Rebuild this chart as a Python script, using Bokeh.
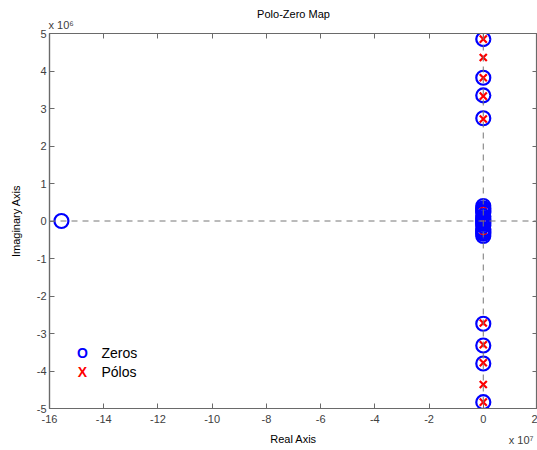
from bokeh.plotting import figure
from bokeh.models import (Range1d, LinearAxis, FixedTicker, CustomJSTickFormatter,
                          Span, Label, Title, ColumnDataSource)
from bokeh.embed import file_html
from bokeh.resources import INLINE

# ---- data ----
zero_real = [-1.556e8] + [0.0] * 25
zero_imag = [0.0,
             4.85e6, 3.82e6, 3.35e6, 2.74e6,
             0.40e6, 0.34e6, 0.30e6, 0.26e6, 0.22e6, 0.08e6, 0.04e6, 0.0,
             -0.04e6, -0.08e6, -0.22e6, -0.26e6, -0.30e6, -0.34e6, -0.40e6,
             -2.74e6, -3.32e6, -3.80e6, -4.83e6,
             0.13e6, -0.13e6]

pole_imag = [4.85e6, 4.36e6, 3.82e6, 3.33e6, 2.72e6, 0.40e6, 0.0,
             -0.40e6, -2.72e6, -3.30e6, -3.78e6, -4.36e6, -4.83e6]
pole_real = [0.0] * len(pole_imag)

x_ticks = [-16e7, -14e7, -12e7, -10e7, -8e7, -6e7, -4e7, -2e7, 0, 2e7]
y_ticks = [-5e6, -4e6, -3e6, -2e6, -1e6, 0, 1e6, 2e6, 3e6, 4e6, 5e6]

AX = "#6a6a6a"
LBL = "#404040"
FONT = "Liberation Sans"

p = figure(width=537, height=450, output_backend="svg", toolbar_location=None,
           x_range=Range1d(-16e7, 2e7), y_range=Range1d(-5e6, 5e6),
           min_border_left=49, min_border_top=33, min_border_bottom=42,
           min_border_right=0, title="Polo-Zero Map")
p.title.align = "center"
p.title.text_font = FONT
p.title.text_font_size = "11px"
p.title.text_font_style = "normal"
p.title.text_color = "black"
p.title.standoff = -10

p.xgrid.visible = False
p.ygrid.visible = False
p.outline_line_color = AX
p.outline_line_width = 1.2
p.background_fill_color = "white"
p.border_fill_color = "white"

xfmt = CustomJSTickFormatter(code="return (tick/1e7).toFixed(0);")
yfmt = CustomJSTickFormatter(code="return (tick/1e6).toFixed(0);")

for ax, fmt, ticks in ((p.xaxis[0], xfmt, x_ticks), (p.yaxis[0], yfmt, y_ticks)):
    ax.ticker = FixedTicker(ticks=ticks)
    ax.formatter = fmt
    ax.major_tick_in = 5
    ax.major_tick_out = 0
    ax.minor_tick_in = 0
    ax.minor_tick_out = 0
    ax.axis_line_color = AX
    ax.axis_line_width = 1.2
    ax.major_tick_line_color = AX
    ax.major_label_text_font = FONT
    ax.major_label_text_font_size = "11px"
    ax.major_label_text_color = LBL
    ax.axis_label_text_font = FONT
    ax.axis_label_text_font_size = "11px"
    ax.axis_label_text_font_style = "normal"
    ax.axis_label_text_color = "black"

p.xaxis[0].axis_label = "Real Axis"
p.xaxis[0].major_label_standoff = 6
p.xaxis[0].axis_label_standoff = 7
p.yaxis[0].axis_label = "Imaginary Axis"
p.yaxis[0].major_label_standoff = 3
p.yaxis[0].axis_label_standoff = 12

blank = CustomJSTickFormatter(code="return '';")
top = LinearAxis(ticker=FixedTicker(ticks=x_ticks), formatter=blank,
                 major_tick_in=5, major_tick_out=0, minor_tick_in=0, minor_tick_out=0,
                 axis_line_color=AX, major_tick_line_color=AX,
                 major_label_text_font_size="0px", major_label_standoff=0)
right = LinearAxis(ticker=FixedTicker(ticks=y_ticks), formatter=blank,
                   major_tick_in=5, major_tick_out=0, minor_tick_in=0, minor_tick_out=0,
                   axis_line_color=AX, major_tick_line_color=AX,
                   major_label_text_font_size="0px", major_label_standoff=0)
p.add_layout(top, "above")
p.add_layout(right, "right")

# exponent notes as extra titles outside the frame
p.add_layout(Title(text="x 10\u2076", align="left", text_font=FONT,
                   text_font_size="11px", text_font_style="normal",
                   text_color=LBL, standoff=5, offset=-1), "above")
p.add_layout(Title(text="x 10\u2077", align="right", vertical_align="top",
                   text_font=FONT, text_font_size="11px", text_font_style="normal",
                   text_color=LBL, standoff=-28, offset=4), "below")

# reference dashed lines through the origin
p.add_layout(Span(location=0, dimension="width", line_color="#777777",
                  line_dash="6 5", line_width=1))
p.add_layout(Span(location=0, dimension="height", line_color="#777777",
                  line_dash="6 5", line_width=1))

poles = ColumnDataSource(dict(x=pole_real, y=pole_imag))
zeros = ColumnDataSource(dict(x=zero_real, y=zero_imag))
p.scatter("x", "y", source=poles, marker="x", size=10, line_color="red", line_width=2.2)
p.scatter("x", "y", source=zeros, marker="circle", size=14, fill_color=None,
          line_color="blue", line_width=2.2)

# legend (text-glyph style)
def lab(x, y, text, color, size, bold=False, align="left"):
    p.add_layout(Label(x=x, y=y, x_units="screen", y_units="screen", text=text,
                       text_color=color, text_font=FONT,
                       text_font_style="bold" if bold else "normal",
                       text_font_size=size, text_align=align, text_baseline="middle"))

lab(33, 56, "O", "blue", "14px", True, "center")
lab(33, 37, "X", "red", "14px", True, "center")
lab(52, 56, "Zeros", "black", "14px")
lab(52, 37, "Pólos", "black", "14px")

open("out.html", "w").write(file_html(p, INLINE))
